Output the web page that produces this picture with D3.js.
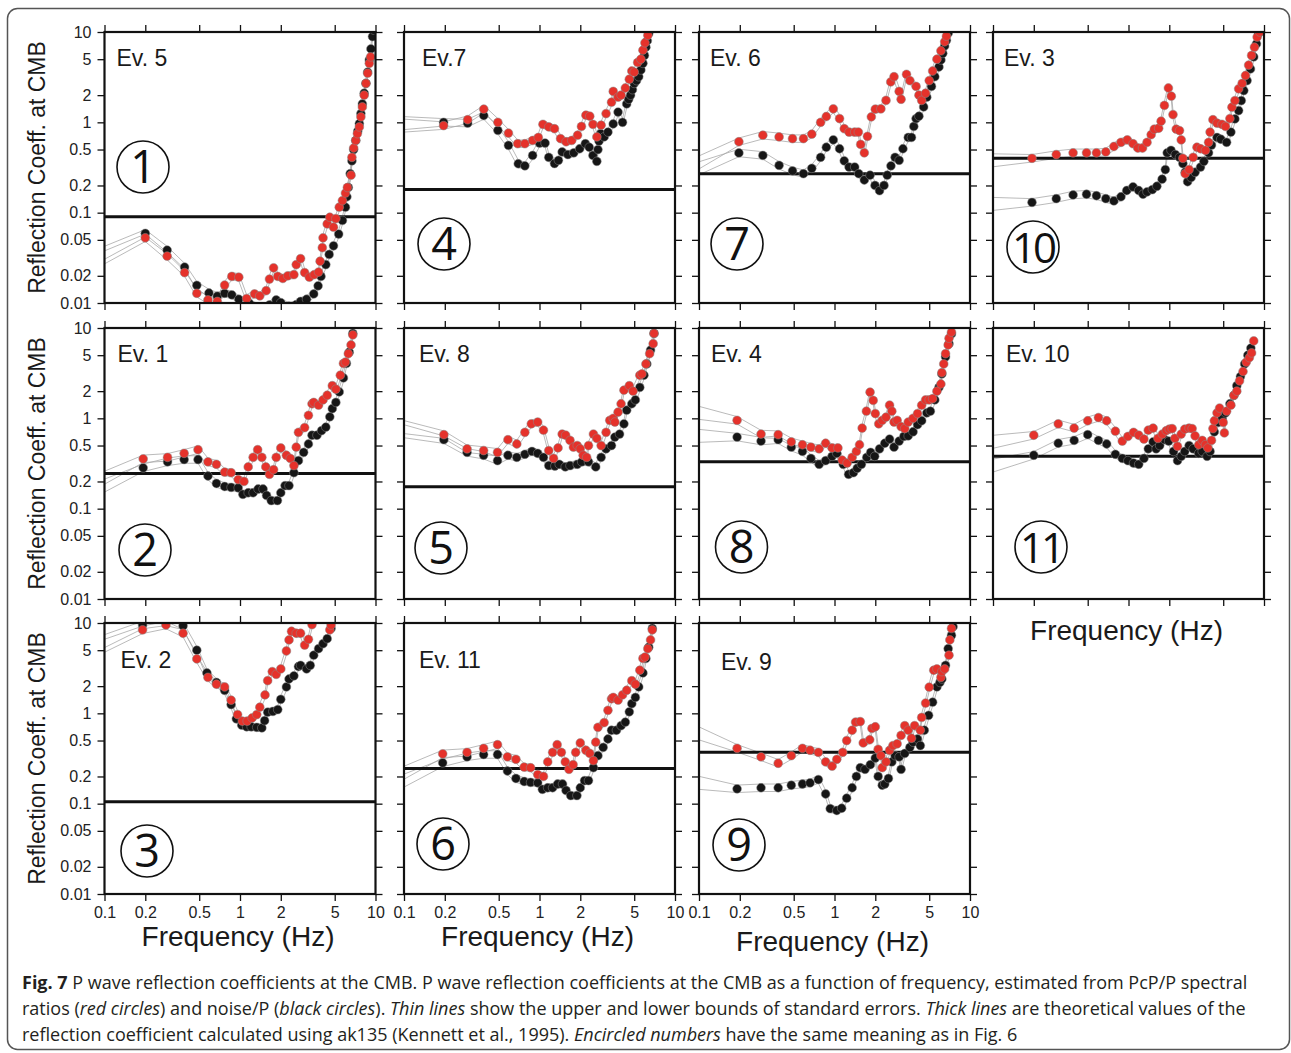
<!DOCTYPE html>
<html>
<head>
<meta charset="utf-8">
<script src="https://cdn.jsdelivr.net/npm/d3@7"></script>
<style>
body { margin: 0; background: #fff; }
svg { display: block; font-family: "Liberation Sans", Arial, sans-serif; }
</style>
</head>
<body>
<svg id="fig" width="1291" height="1053"></svg>
<script>
// ---- data -------------------------------------------------------------
const xTicks = [0.1, 0.2, 0.5, 1, 2, 5, 10];
const yTicks = [0.01, 0.02, 0.05, 0.1, 0.2, 0.5, 1, 2, 5, 10];

const events = ['Ev. 5', 'Ev.7', 'Ev. 6', 'Ev. 3', 'Ev. 1', 'Ev. 8', 'Ev. 4', 'Ev. 10', 'Ev. 2', 'Ev. 11', 'Ev. 9'];
const circled = ['1', '4', '7', '10', '2', '5', '8', '11', '3', '6', '9'];
const theory = [0.09, 0.18, 0.27, 0.40, 0.245, 0.175, 0.33, 0.38, 0.105, 0.245, 0.37];

// [frequency Hz, reflection coefficient]; first point (0.1 Hz) only feeds the error bounds
const ev5Black = [[0.1,0.036],[0.2,0.059],[0.29,0.0385],[0.39,0.025],[0.48,0.0157],[0.59,0.0129],[0.68,0.0119],[0.77,0.0128],[0.87,0.0123],[0.98,0.011],[1.17,0.0099],[1.4,0.0088],[1.65,0.0095],[1.85,0.0108],[2.0,0.0101],[2.3,0.0092],[2.6,0.0096],[2.8,0.0104],[3.1,0.011],[3.5,0.0126],[3.77,0.0155],[3.96,0.0197],[4.3,0.0266],[4.55,0.0345],[4.9,0.043],[5.35,0.058],[5.7,0.082],[6.0,0.115],[6.15,0.15],[6.3,0.19],[6.5,0.27],[6.7,0.375],[6.9,0.5],[7.15,0.63],[7.4,0.8],[7.6,0.97],[7.8,1.25],[8.0,1.6],[8.25,2.1],[8.5,2.7],[8.75,3.6],[9.0,4.9],[9.25,6.5],[9.5,8.9],[9.7,10.5]];
const ev5Red = [[0.1,0.032],[0.2,0.0527],[0.29,0.033],[0.39,0.0217],[0.48,0.0128],[0.58,0.0108],[0.68,0.0104],[0.77,0.0158],[0.87,0.0197],[0.98,0.0193],[1.12,0.0112],[1.28,0.0126],[1.4,0.012],[1.56,0.0137],[1.65,0.0184],[1.77,0.0245],[1.9,0.0197],[2.07,0.0187],[2.25,0.02],[2.5,0.0206],[2.6,0.0266],[2.8,0.031],[3.0,0.0217],[3.25,0.0193],[3.53,0.0206],[3.8,0.022],[3.9,0.029],[4.05,0.041],[4.1,0.0527],[4.4,0.075],[4.6,0.089],[4.9,0.069],[5.1,0.086],[5.4,0.115],[5.7,0.136],[6.0,0.165],[6.2,0.19],[6.6,0.26],[6.7,0.41],[6.9,0.52],[7.15,0.63],[7.35,0.75],[7.6,0.89],[7.8,1.15],[8.0,1.48],[8.25,2.0],[8.5,2.7],[8.75,3.5],[9.0,4.5],[9.2,5.3]];

const ev7Black = [[0.1,0.98],[0.196,1.0],[0.295,0.98],[0.388,1.19],[0.493,0.815],[0.59,0.556],[0.697,0.348],[0.78,0.33],[0.89,0.43],[1.0,0.59],[1.1,0.59],[1.17,0.41],[1.29,0.35],[1.38,0.38],[1.47,0.47],[1.62,0.44],[1.79,0.46],[1.98,0.51],[2.18,0.58],[2.33,0.53],[2.48,0.43],[2.65,0.37],[2.7,0.5],[2.75,0.62],[2.83,0.75],[3.0,0.69],[3.2,0.78],[3.5,0.96],[3.8,1.3],[4.1,1.0],[4.4,1.6],[4.55,1.8],[4.7,2.0],[4.85,2.3],[5.0,2.7],[5.2,2.9],[5.4,3.2],[5.6,3.8],[5.8,4.5],[5.95,5.5],[6.1,6.8],[6.25,8.0],[6.4,9.6],[6.6,11]];
const ev7Red = [[0.1,0.92],[0.196,0.92],[0.295,1.07],[0.388,1.4],[0.493,1.0],[0.59,0.76],[0.69,0.58],[0.78,0.58],[0.89,0.63],[0.98,0.68],[1.06,0.95],[1.17,0.89],[1.29,0.85],[1.43,0.66],[1.57,0.61],[1.73,0.63],[1.91,0.72],[2.04,0.9],[2.2,1.2],[2.35,1.17],[2.48,0.95],[2.65,0.69],[2.85,0.93],[3.1,1.25],[3.4,1.67],[3.5,2.2],[3.8,1.9],[4.0,2.0],[4.3,2.4],[4.6,3.0],[4.8,3.7],[5.0,3.6],[5.3,4.6],[5.6,5.0],[5.8,6.3],[6.0,7.6],[6.3,9.2]];

const ev6Black = [[0.1,0.31],[0.197,0.458],[0.296,0.43],[0.39,0.334],[0.49,0.29],[0.59,0.27],[0.68,0.31],[0.79,0.41],[0.87,0.53],[0.98,0.64],[1.09,0.51],[1.18,0.375],[1.28,0.32],[1.41,0.32],[1.51,0.27],[1.66,0.23],[1.83,0.26],[1.99,0.2],[2.15,0.175],[2.32,0.2],[2.45,0.26],[2.61,0.33],[2.8,0.41],[3.0,0.38],[3.2,0.51],[3.5,0.68],[3.7,0.68],[3.85,0.9],[4.0,1.1],[4.2,1.17],[4.55,1.48],[4.8,1.9],[5.2,2.5],[5.5,3.2],[5.9,4.1],[6.1,4.9],[6.3,5.8],[6.5,7.0],[6.7,8.1],[6.9,9.7]];
const ev6Red = [[0.1,0.36],[0.197,0.61],[0.296,0.72],[0.39,0.69],[0.49,0.66],[0.59,0.66],[0.68,0.74],[0.79,1.0],[0.87,1.16],[0.98,1.41],[1.09,1.1],[1.18,0.85],[1.28,0.78],[1.41,0.78],[1.5,0.78],[1.56,0.57],[1.66,0.46],[1.75,0.7],[1.87,1.15],[2.0,1.4],[2.2,1.41],[2.4,1.75],[2.6,2.8],[2.75,3.2],[3.0,2.2],[3.1,1.8],[3.4,3.4],[3.6,2.9],[4.0,2.5],[4.2,2.0],[4.4,1.75],[4.7,2.1],[5.0,2.9],[5.3,3.7],[5.7,5.0],[6.1,6.2],[6.5,7.8],[6.7,9.0]];

const ev3Black = [[0.1,0.125],[0.194,0.13],[0.293,0.143],[0.39,0.157],[0.49,0.16],[0.58,0.154],[0.68,0.143],[0.78,0.135],[0.88,0.15],[0.97,0.176],[1.08,0.193],[1.19,0.176],[1.28,0.16],[1.37,0.17],[1.5,0.18],[1.62,0.196],[1.77,0.235],[1.87,0.3],[1.93,0.46],[2.06,0.49],[2.22,0.44],[2.38,0.41],[2.52,0.35],[2.62,0.28],[2.73,0.22],[2.9,0.245],[3.1,0.28],[3.4,0.32],[3.6,0.37],[3.9,0.46],[4.1,0.56],[4.5,0.68],[4.8,0.65],[5.3,0.6],[5.7,0.78],[6.1,1.09],[6.5,1.35],[6.8,1.74],[7.1,2.25],[7.5,2.9],[7.95,3.9],[8.4,5.3],[8.8,7.4],[9.1,9.6]];
const ev3Red = [[0.1,0.38],[0.194,0.40],[0.293,0.44],[0.39,0.46],[0.49,0.46],[0.58,0.46],[0.68,0.47],[0.78,0.54],[0.88,0.6],[0.98,0.64],[1.08,0.58],[1.17,0.52],[1.27,0.52],[1.37,0.6],[1.47,0.73],[1.55,0.84],[1.67,0.86],[1.74,1.03],[1.84,1.54],[1.97,2.4],[2.07,1.95],[2.13,1.22],[2.25,0.84],[2.38,0.81],[2.45,0.64],[2.52,0.40],[2.62,0.27],[2.8,0.3],[3.0,0.41],[3.2,0.53],[3.4,0.51],[3.7,0.49],[3.9,0.6],[4.0,0.78],[4.2,1.07],[4.5,0.98],[4.9,0.95],[5.2,0.9],[5.6,1.1],[5.8,1.47],[6.1,1.74],[6.5,2.35],[6.9,2.7],[7.3,3.3],[7.7,4.3],[8.1,5.5],[8.5,6.8],[8.9,8.8],[9.3,10]];

const ev1Black = [[0.1,0.18],[0.193,0.283],[0.292,0.33],[0.387,0.35],[0.49,0.35],[0.58,0.23],[0.67,0.19],[0.77,0.176],[0.86,0.172],[0.97,0.17],[1.05,0.144],[1.15,0.15],[1.25,0.15],[1.36,0.165],[1.48,0.165],[1.57,0.14],[1.7,0.123],[1.89,0.123],[2.0,0.15],[2.15,0.18],[2.3,0.18],[2.5,0.25],[2.7,0.34],[2.95,0.42],[3.2,0.52],[3.4,0.65],[3.7,0.65],[4.0,0.73],[4.3,0.8],[4.6,1.04],[4.8,1.28],[5.1,1.5],[5.4,1.96],[5.8,2.8],[6.1,4.05],[6.4,5.4],[6.8,8.7]];
const ev1Red = [[0.1,0.22],[0.193,0.356],[0.292,0.37],[0.387,0.41],[0.49,0.45],[0.58,0.33],[0.67,0.31],[0.77,0.254],[0.86,0.25],[0.97,0.21],[1.07,0.2],[1.15,0.29],[1.25,0.37],[1.35,0.45],[1.45,0.37],[1.55,0.29],[1.65,0.24],[1.77,0.27],[1.85,0.37],[2.0,0.47],[2.2,0.39],[2.35,0.36],[2.5,0.3],[2.6,0.48],[2.7,0.7],[3.0,0.79],[3.2,1.08],[3.4,1.45],[3.5,1.5],[3.8,1.4],[4.1,1.6],[4.4,1.8],[4.8,2.3],[5.1,2.1],[5.5,3.0],[5.8,4.05],[6.0,4.2],[6.3,5.2],[6.6,6.5],[6.8,8.4]];

const ev8Black = [[0.1,0.72],[0.197,0.58],[0.292,0.42],[0.387,0.39],[0.49,0.34],[0.585,0.39],[0.68,0.37],[0.78,0.4],[0.88,0.43],[0.97,0.41],[1.07,0.37],[1.17,0.30],[1.3,0.296],[1.4,0.31],[1.55,0.29],[1.68,0.3],[1.9,0.31],[2.05,0.33],[2.3,0.33],[2.6,0.29],[2.85,0.37],[3.1,0.46],[3.4,0.5],[3.6,0.62],[3.9,0.67],[4.2,0.87],[4.4,1.23],[4.8,1.45],[5.1,1.6],[5.5,2.2],[5.9,3.0],[6.2,4.0],[6.6,5.7],[7.0,8.7]];
const ev8Red = [[0.1,0.8],[0.197,0.66],[0.292,0.46],[0.387,0.44],[0.49,0.42],[0.585,0.58],[0.68,0.52],[0.78,0.7],[0.87,0.87],[0.97,0.91],[1.07,0.74],[1.17,0.44],[1.27,0.36],[1.37,0.47],[1.47,0.67],[1.56,0.65],[1.68,0.57],[1.78,0.48],[1.9,0.5],[2.0,0.46],[2.1,0.39],[2.23,0.37],[2.3,0.5],[2.5,0.67],[2.65,0.6],[2.85,0.5],[3.1,0.7],[3.3,0.95],[3.5,1.0],[3.6,0.91],[3.8,1.17],[4.0,1.45],[4.2,2.05],[4.6,2.3],[4.9,2.0],[5.5,3.0],[5.7,3.1],[6.1,4.0],[6.5,5.2],[6.9,6.7],[7.0,8.7]];

const ev4Black = [[0.1,0.64],[0.191,0.62],[0.287,0.56],[0.384,0.58],[0.48,0.48],[0.58,0.43],[0.67,0.36],[0.77,0.31],[0.86,0.34],[0.96,0.38],[1.04,0.41],[1.16,0.31],[1.27,0.24],[1.38,0.25],[1.47,0.28],[1.58,0.31],[1.73,0.37],[1.85,0.42],[1.98,0.38],[2.15,0.46],[2.35,0.53],[2.55,0.59],[2.75,0.48],[3.0,0.56],[3.25,0.63],[3.5,0.64],[3.8,0.71],[4.1,0.85],[4.4,0.94],[4.8,1.15],[5.1,1.2],[5.5,1.6],[5.9,2.2],[6.2,3.1],[6.6,4.8],[7.0,6.7],[7.3,8.6]];
const ev4Red = [[0.1,1.15],[0.191,0.95],[0.287,0.67],[0.384,0.66],[0.48,0.55],[0.58,0.51],[0.67,0.48],[0.77,0.46],[0.86,0.53],[0.96,0.47],[1.06,0.47],[1.14,0.345],[1.24,0.32],[1.35,0.37],[1.45,0.43],[1.53,0.51],[1.6,0.78],[1.72,1.2],[1.83,1.95],[1.93,1.58],[2.0,1.13],[2.12,0.87],[2.25,0.95],[2.4,1.03],[2.55,1.4],[2.65,1.2],[2.75,0.91],[2.9,0.95],[3.1,0.81],[3.3,0.77],[3.5,0.91],[3.8,1.0],[4.1,1.13],[4.4,1.4],[4.7,1.6],[5.0,1.6],[5.3,1.65],[5.7,2.0],[6.1,2.4],[6.2,3.2],[6.4,4.0],[6.6,5.2],[6.9,6.5],[7.0,7.7],[7.3,9.0]];

const ev10Black = [[0.1,0.3],[0.2,0.39],[0.303,0.53],[0.397,0.57],[0.5,0.66],[0.6,0.57],[0.69,0.52],[0.8,0.4],[0.9,0.36],[0.99,0.34],[1.09,0.32],[1.19,0.31],[1.3,0.36],[1.4,0.46],[1.52,0.55],[1.6,0.46],[1.7,0.5],[1.85,0.58],[1.98,0.56],[2.15,0.43],[2.3,0.34],[2.45,0.38],[2.6,0.43],[2.8,0.5],[3.0,0.46],[3.3,0.41],[3.5,0.43],[3.8,0.38],[4.0,0.43],[4.3,0.71],[4.6,0.9],[4.9,1.0],[5.2,1.15],[5.6,1.45],[6.0,1.8],[6.3,2.3],[6.7,2.9],[7.2,4.0],[7.6,5.0],[8.0,6.0]];
const ev10Red = [[0.1,0.55],[0.2,0.65],[0.303,0.87],[0.397,0.78],[0.5,0.94],[0.6,1.02],[0.69,0.94],[0.8,0.72],[0.9,0.56],[0.99,0.63],[1.09,0.7],[1.19,0.65],[1.3,0.59],[1.4,0.74],[1.52,0.78],[1.65,0.6],[1.78,0.67],[1.9,0.73],[2.0,0.76],[2.1,0.77],[2.2,0.6],[2.3,0.49],[2.45,0.67],[2.6,0.76],[2.8,0.78],[2.95,0.77],[3.1,0.64],[3.3,0.51],[3.5,0.57],[3.7,0.51],[3.85,0.47],[4.1,0.57],[4.2,0.77],[4.3,0.94],[4.5,1.15],[4.7,1.3],[5.0,0.9],[5.1,0.69],[5.3,1.2],[5.7,1.4],[6.0,1.8],[6.3,2.0],[6.6,2.6],[7.0,3.3],[7.4,4.2],[7.8,4.7],[8.1,5.3],[8.4,7.2]];

const ev2Black = [[0.1,6.3],[0.191,9.5],[0.284,10.3],[0.38,9.3],[0.48,5.0],[0.57,2.8],[0.67,2.2],[0.77,1.8],[0.86,1.25],[0.94,0.87],[1.03,0.74],[1.12,0.71],[1.21,0.71],[1.33,0.7],[1.45,0.69],[1.52,0.83],[1.6,1.03],[1.75,1.05],[1.9,1.1],[2.0,1.43],[2.2,1.96],[2.3,2.4],[2.5,2.6],[2.7,3.3],[2.8,3.4],[3.1,3.1],[3.3,3.4],[3.5,4.4],[3.8,5.2],[4.1,5.9],[4.4,6.7],[4.7,8.7]];
const ev2Red = [[0.1,5.6],[0.191,8.4],[0.284,9.5],[0.38,7.7],[0.48,4.0],[0.58,2.5],[0.67,2.1],[0.77,1.96],[0.86,1.4],[0.96,0.97],[1.04,0.82],[1.13,0.82],[1.23,0.89],[1.33,0.97],[1.4,1.17],[1.53,1.6],[1.6,2.3],[1.73,2.9],[1.85,2.7],[2.0,3.1],[2.2,4.9],[2.3,6.5],[2.4,8.1],[2.6,7.7],[2.8,7.7],[3.0,5.7],[3.2,6.6],[3.4,9.6],[3.7,12],[4.1,13],[4.4,11],[4.6,8.4],[4.7,9.5]];

const ev11Black = [[0.1,0.18],[0.193,0.283],[0.292,0.33],[0.387,0.35],[0.49,0.35],[0.58,0.23],[0.67,0.19],[0.77,0.176],[0.86,0.172],[0.97,0.17],[1.05,0.144],[1.15,0.15],[1.25,0.15],[1.36,0.165],[1.48,0.165],[1.57,0.14],[1.7,0.123],[1.89,0.123],[2.0,0.15],[2.15,0.18],[2.3,0.18],[2.5,0.25],[2.7,0.34],[2.95,0.42],[3.2,0.52],[3.4,0.65],[3.7,0.65],[4.0,0.73],[4.3,0.8],[4.6,1.04],[4.8,1.28],[5.1,1.5],[5.4,1.96],[5.8,2.8],[6.1,4.05],[6.4,5.4],[6.8,8.7]];
const ev11Red = [[0.1,0.22],[0.193,0.356],[0.292,0.37],[0.387,0.41],[0.49,0.45],[0.58,0.33],[0.67,0.31],[0.77,0.254],[0.86,0.25],[0.97,0.21],[1.07,0.2],[1.15,0.29],[1.25,0.37],[1.35,0.45],[1.45,0.37],[1.55,0.29],[1.65,0.24],[1.77,0.27],[1.85,0.37],[2.0,0.47],[2.2,0.39],[2.35,0.36],[2.5,0.3],[2.6,0.48],[2.7,0.7],[3.0,0.79],[3.2,1.08],[3.4,1.45],[3.5,1.5],[3.8,1.4],[4.1,1.6],[4.4,1.8],[4.8,2.3],[5.1,2.1],[5.5,3.0],[5.8,4.05],[6.0,4.2],[6.3,5.2],[6.6,6.5],[6.8,8.4]];

const ev9Black = [[0.1,0.17],[0.191,0.146],[0.287,0.15],[0.384,0.15],[0.48,0.16],[0.58,0.165],[0.66,0.17],[0.76,0.185],[0.86,0.128],[0.93,0.088],[1.04,0.084],[1.13,0.089],[1.23,0.115],[1.35,0.15],[1.45,0.2],[1.55,0.25],[1.68,0.24],[1.84,0.27],[2.0,0.32],[2.1,0.2],[2.25,0.16],[2.35,0.165],[2.5,0.19],[2.65,0.29],[2.8,0.34],[3.0,0.33],[3.1,0.24],[3.3,0.36],[3.6,0.42],[3.8,0.48],[4.1,0.52],[4.3,0.44],[4.6,0.65],[4.95,0.95],[5.3,1.33],[5.7,1.96],[6.0,2.2],[6.2,2.4],[6.6,3.4],[6.9,5.2],[7.3,7.3],[7.5,9.1]];
const ev9Red = [[0.1,0.6],[0.191,0.41],[0.287,0.33],[0.384,0.28],[0.48,0.34],[0.58,0.41],[0.66,0.39],[0.76,0.37],[0.86,0.29],[0.96,0.26],[1.04,0.31],[1.15,0.37],[1.23,0.5],[1.35,0.65],[1.43,0.8],[1.55,0.81],[1.63,0.47],[1.82,0.51],[1.89,0.68],[2.0,0.71],[2.1,0.4],[2.2,0.34],[2.25,0.25],[2.4,0.29],[2.55,0.39],[2.7,0.44],[2.9,0.46],[3.1,0.57],[3.3,0.73],[3.5,0.65],[3.7,0.53],[3.9,0.73],[4.3,0.65],[4.4,0.9],[4.7,1.3],[5.0,1.95],[5.4,3.0],[5.7,3.1],[6.1,2.5],[6.2,2.9],[6.5,3.1],[7.0,4.4],[7.1,6.5],[7.3,8.7]];

const redSeries = [ev5Red, ev7Red, ev6Red, ev3Red, ev1Red, ev8Red, ev4Red, ev10Red, ev2Red, ev11Red, ev9Red];
const blackSeries = [ev5Black, ev7Black, ev6Black, ev3Black, ev1Black, ev8Black, ev4Black, ev10Black, ev2Black, ev11Black, ev9Black];

// relative standard error used for the thin bound lines
const SE = 0.1;
const SE_EDGE = 0.18;

// ---- layout -----------------------------------------------------------
const colX = [104.5, 404, 699, 993];
const rowY = [32, 328, 623];
const W = 271, H = 271;

// per-panel text placement relative to the panel corner
const evLabelPos = [[12,34],[18,34],[11,34],[11,34],[13,34],[15,34],[12,34],[13,34],[16,45],[15,45],[22,47]];
const circlePos = [[38.5,135],[40,212],[38,212],[40,215],[40.5,222],[37,220],[42.5,219],[48,219],[42.5,228],[39,221],[40,222]];

const RED = '#e5322b';
const BLACK = '#161616';

const svg = d3.select('#fig');

svg.append('rect')
	.attr('x', 7.5).attr('y', 8.5)
	.attr('width', 1282).attr('height', 1041)
	.attr('rx', 10)
	.attr('fill', 'none')
	.attr('stroke', '#555')
	.attr('stroke-width', 1.5);

const x = d3.scaleLog().domain([0.1, 10]).range([0, W]);
const y = d3.scaleLog().domain([0.01, 10]).range([H, 0]);

events.forEach((name, i) => {
	const col = i % 4, row = Math.floor(i / 4);
	const g = svg.append('g').attr('transform', `translate(${colX[col]},${rowY[row]})`);

	g.append('clipPath').attr('id', 'clip' + i)
		.append('rect').attr('width', W).attr('height', H);
	const plot = g.append('g').attr('clip-path', `url(#clip${i})`);

	const showYLabels = col === 0;
	const showXLabels = row === 2;

	// thin bound lines
	[blackSeries[i], redSeries[i]].forEach(series => {
		[1, -1].forEach(sign => {
			const line = d3.line()
				.x(d => x(d[0]))
				.y((d, k) => {
					const se = k === 0 ? SE_EDGE : SE;
					return y(sign > 0 ? d[1] * (1 + se) : d[1] / (1 + se));
				});
			plot.append('path').datum(series)
				.attr('d', line)
				.attr('fill', 'none')
				.attr('stroke', '#a8a8a8')
				.attr('stroke-width', 0.8);
		});
	});

	// theoretical value
	plot.append('line')
		.attr('x1', 0).attr('x2', W)
		.attr('y1', y(theory[i])).attr('y2', y(theory[i]))
		.attr('stroke', '#111')
		.attr('stroke-width', 3);

	// circles
	[[blackSeries[i], BLACK], [redSeries[i], RED]].forEach(([series, color]) => {
		plot.append('g').selectAll('circle').data(series.slice(1))
			.enter().append('circle')
				.attr('cx', d => x(d[0]))
				.attr('cy', d => y(d[1]))
				.attr('r', 4.4)
				.attr('fill', color)
				.attr('stroke', '#8a8a8a')
				.attr('stroke-width', 0.5);
	});

	// axes on all four sides, outward ticks
	const fmt = d => String(d);
	const axes = [
		[d3.axisBottom(x).tickValues(xTicks).tickFormat(showXLabels ? fmt : ''), `translate(0,${H})`],
		[d3.axisTop(x).tickValues(xTicks).tickFormat(''), 'translate(0,0)'],
		[d3.axisLeft(y).tickValues(yTicks).tickFormat(showYLabels ? fmt : ''), 'translate(0,0)'],
		[d3.axisRight(y).tickValues(yTicks).tickFormat(''), `translate(${W},0)`]
	];
	axes.forEach(([axis, tr]) => {
		const a = g.append('g').attr('transform', tr)
			.call(axis.tickSize(7).tickPadding(6));
		a.select('.domain').remove();
		a.selectAll('.tick line').attr('stroke', '#111').attr('stroke-width', 1.3);
		a.selectAll('.tick text')
			.attr('fill', '#222')
			.style('font-family', '"Liberation Sans", Arial, sans-serif')
			.style('font-size', '16px');
	});

	// frame
	g.append('rect')
		.attr('width', W).attr('height', H)
		.attr('fill', 'none')
		.attr('stroke', '#111')
		.attr('stroke-width', 2.2);

	// event label
	g.append('text')
		.attr('x', evLabelPos[i][0]).attr('y', evLabelPos[i][1])
		.attr('fill', '#1a1a1a')
		.style('font-size', '23px')
		.text(name);

	// encircled number
	const cg = g.append('g').attr('transform', `translate(${circlePos[i][0]},${circlePos[i][1]})`);
	cg.append('circle').attr('r', 26)
		.attr('fill', 'none').attr('stroke', '#111').attr('stroke-width', 1.6);
	cg.append('text')
		.attr('text-anchor', 'middle')
		.attr('y', 16)
		.attr('fill', '#111')
		.style('font-family', '"Open Sans", "Noto Sans", sans-serif')
		.style('font-size', circled[i].length > 1 ? '42px' : '45px')
		.style('letter-spacing', circled[i].length > 1 ? '-3px' : '0')
		.text(circled[i]);

	if (showYLabels) {
		svg.append('text')
			.attr('transform', `translate(45,${rowY[row] + H / 2}) rotate(-90)`)
			.attr('text-anchor', 'middle')
			.attr('fill', '#1a1a1a')
			.style('font-size', '23px')
			.text('Reflection Coeff. at CMB');
	}
});

// frequency axis titles
const freqTitles = [[0, 2, 946], [1, 2, 946], [2, 2, 951], [3, 1, 640]];
freqTitles.forEach(([col, row, base]) => {
	svg.append('text')
		.attr('x', colX[col] + W / 2 - 2)
		.attr('y', base)
		.attr('text-anchor', 'middle')
		.attr('fill', '#1a1a1a')
		.style('font-size', '28px')
		.text('Frequency (Hz)');
});

// caption
const captionLines = [
	[['Fig. 7', 'b'], [' P wave reflection coefficients at the CMB. P wave reflection coefficients at the CMB as a function of frequency, estimated from PcP/P spectral', '']],
	[['ratios (', ''], ['red circles', 'i'], [') and noise/P (', ''], ['black circles', 'i'], ['). ', ''], ['Thin lines', 'i'], [' show the upper and lower bounds of standard errors. ', ''], ['Thick lines', 'i'], [' are theoretical values of the', '']],
	[['reflection coefficient calculated using ak135 (Kennett et al., 1995). ', ''], ['Encircled numbers', 'i'], [' have the same meaning as in Fig. 6', '']]
];
const capBase = [989, 1015, 1041];
const capNodes = captionLines.map((segs, li) => {
	const t = svg.append('text')
		.attr('x', 22).attr('y', capBase[li])
		.attr('fill', '#231f20')
		.style('font-family', '"Open Sans", "Noto Sans", sans-serif')
		.style('font-size', '16px');
	segs.forEach(([txt, st]) => {
		t.append('tspan')
			.style('font-weight', st === 'b' ? 'bold' : 'normal')
			.style('font-style', st === 'i' ? 'italic' : 'normal')
			.text(txt);
	});
	return t;
});
const w1 = capNodes[0].node().getComputedTextLength();
const fs = 16 * 1226 / w1;
capNodes.forEach(t => t.style('font-size', fs + 'px'));
</script>
</body>
</html>
